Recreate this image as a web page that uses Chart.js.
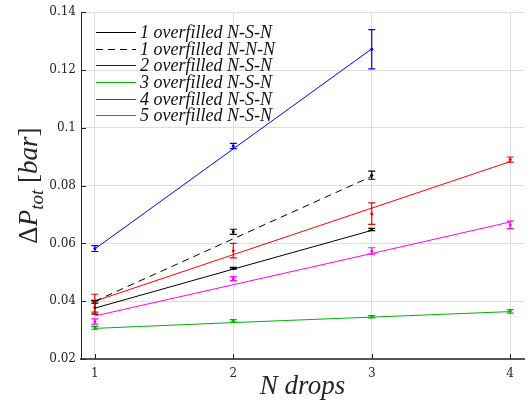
<!DOCTYPE html>
<html>
<head>
<meta charset="utf-8">
<script src="https://cdn.jsdelivr.net/npm/chart.js@4.4.0/dist/chart.umd.min.js"></script>
<style>
    html, body { margin: 0; padding: 0; background: #fff; }
    #wrap { width: 531px; height: 403px; }
</style>
</head>
<body>
<div id="wrap"><canvas id="dropsChart" width="531" height="403"></canvas></div>
<script>
// x positions and tick labels
var nDrops = [1, 2, 3, 4];
var yTicks = [0.02, 0.04, 0.06, 0.08, 0.1, 0.12, 0.14];

var seriesNames = ['1 overfilled N-S-N', '1 overfilled N-N-N', '2 overfilled N-S-N',
                   '3 overfilled N-S-N', '4 overfilled N-S-N', '5 overfilled N-S-N'];

// fitted lines (value at each N)
var fit1NSN = [0.0376, 0.0511, 0.0645];
var fit1NNN = [0.0400, 0.0616, 0.0832];
var fit2NSN = [0.0581, 0.0927, 0.1273];
var fit3NSN = [0.0306, 0.0326, 0.0345, 0.0364];
var fit4NSN = [0.0400, 0.0561, 0.0722, 0.0883];
var fit5NSN = [0.0349, 0.0457, 0.0565, 0.0674];

// measured mean values
var mean1NSN = [0.0378, 0.0514, 0.0648];
var mean1NNN = [0.0398, 0.0640, 0.0836];
var mean2NSN = [0.0582, 0.0937, 0.1272];
var mean3NSN = [0.0308, 0.0332, 0.0346, 0.0365];
var mean4NSN = [0.0393, 0.0575, 0.0703, 0.0890];
var mean5NSN = [0.0330, 0.0478, 0.0574, 0.0664];

// half-length of the error bars
var err1NSN = [0.0023, 0.0003, 0.0004];
var err1NNN = [0.0005, 0.0009, 0.0014];
var err2NSN = [0.0010, 0.0009, 0.0068];
var err3NSN = [0.0005, 0.0004, 0.0004, 0.0006];
var err4NSN = [0.0031, 0.0025, 0.0037, 0.0009];
var err5NSN = [0.0009, 0.0007, 0.0011, 0.0013];

var fits = [fit1NSN, fit1NNN, fit2NSN, fit3NSN, fit4NSN, fit5NSN];
var means = [mean1NSN, mean1NNN, mean2NSN, mean3NSN, mean4NSN, mean5NSN];
var errs = [err1NSN, err1NNN, err2NSN, err3NSN, err4NSN, err5NSN];

var colors = ['#000000', '#000000', '#0000ff', '#00b400', '#ff0000', '#ff00ff'];
var dashes = [[], [7, 5], [], [], [], []];

var textColor = '#262626';
var serif = '"Liberation Serif", "DejaVu Serif", serif';

function makeXY(values) {
    return values.map(function (v, i) { return { x: nDrops[i], y: v }; });
}

var datasets = [];
for (var s = 0; s < seriesNames.length; s++) {
    datasets.push({
        label: seriesNames[s],
        data: makeXY(fits[s]),
        borderColor: colors[s],
        borderWidth: 1,
        borderDash: dashes[s],
        pointRadius: 0,
        fill: false,
        tension: 0
    });
    datasets.push({
        label: seriesNames[s] + ' data',
        data: makeXY(means[s]),
        errors: errs[s],
        showLine: false,
        pointRadius: 1.5,
        pointBorderWidth: 0,
        pointBackgroundColor: colors[s],
        borderColor: colors[s]
    });
}

// vertical error bars with caps, placed through the chart scales
var errorBarPlugin = {
    id: 'errorBars',
    afterDatasetsDraw: function (chart) {
        var ctx = chart.ctx;
        var xs = chart.scales.x, ys = chart.scales.y;
        chart.data.datasets.forEach(function (ds) {
            if (!ds.errors) return;
            ctx.save();
            ctx.strokeStyle = ds.borderColor;
            ctx.lineWidth = 1.2;
            ds.data.forEach(function (p, i) {
                var px = xs.getPixelForValue(p.x);
                var yTop = ys.getPixelForValue(p.y + ds.errors[i]);
                var yBot = ys.getPixelForValue(p.y - ds.errors[i]);
                ctx.beginPath();
                ctx.moveTo(px, yTop); ctx.lineTo(px, yBot);
                ctx.moveTo(px - 3.5, yTop); ctx.lineTo(px + 3.5, yTop);
                ctx.moveTo(px - 3.5, yBot); ctx.lineTo(px + 3.5, yBot);
                ctx.stroke();
            });
            ctx.restore();
        });
    }
};

// inward tick marks, legend and y label
var decorPlugin = {
    id: 'decor',
    afterDraw: function (chart) {
        var ctx = chart.ctx;
        var area = chart.chartArea;
        var xs = chart.scales.x, ys = chart.scales.y;

        ctx.save();
        ctx.strokeStyle = textColor;
        ctx.lineWidth = 1;
        ys.ticks.forEach(function (t) {
            var py = Math.round(ys.getPixelForValue(t.value)) + 0.5;
            ctx.beginPath(); ctx.moveTo(area.left, py); ctx.lineTo(area.left + 5, py); ctx.stroke();
        });
        xs.ticks.forEach(function (t) {
            var px = Math.round(xs.getPixelForValue(t.value)) + 0.5;
            ctx.beginPath(); ctx.moveTo(px, area.bottom); ctx.lineTo(px, area.bottom - 5); ctx.stroke();
        });
        ctx.restore();

        // legend
        ctx.save();
        var lx = area.left + 15, ly = area.top + 20, rowH = 16.6;
        ctx.font = 'italic 18px ' + serif;
        ctx.textBaseline = 'middle';
        for (var i = 0; i < seriesNames.length; i++) {
            var y = Math.round(ly + i * rowH) + 0.5;
            ctx.strokeStyle = colors[i];
            ctx.lineWidth = 1;
            ctx.setLineDash(dashes[i]);
            ctx.beginPath(); ctx.moveTo(lx, y); ctx.lineTo(lx + 40, y); ctx.stroke();
            ctx.setLineDash([]);
            ctx.fillStyle = '#111';
            ctx.fillText(seriesNames[i], lx + 44, y + 1);
        }
        ctx.restore();

        // y label: Delta P_tot [bar]
        ctx.save();
        var cy = (area.top + area.bottom) / 2;
        ctx.translate(37, cy);
        ctx.rotate(-Math.PI / 2);
        ctx.fillStyle = textColor;
        ctx.textBaseline = 'alphabetic';
        var parts = [
            { t: '\u0394', f: '27px ' + serif, dy: 0 },
            { t: 'P', f: 'italic 27px ' + serif, dy: 0 },
            { t: 'tot', f: 'italic 19px ' + serif, dy: 6 },
            { t: ' [', f: '27px ' + serif, dy: 0 },
            { t: 'bar', f: 'italic 27px ' + serif, dy: 0 },
            { t: ']', f: '27px ' + serif, dy: 0 }
        ];
        var total = 0;
        parts.forEach(function (p) { ctx.font = p.f; p.w = ctx.measureText(p.t).width; total += p.w; });
        var x0 = -total / 2;
        parts.forEach(function (p) {
            ctx.font = p.f;
            ctx.fillText(p.t, x0, p.dy);
            x0 += p.w;
        });
        ctx.restore();
    }
};

var chartDiv = document.getElementById('dropsChart');
var myChart = new Chart(chartDiv, {
    type: 'line',
    data: { datasets: datasets },
    plugins: [errorBarPlugin, decorPlugin],
    options: {
        responsive: false,
        animation: false,
        layout: { padding: { top: 12, right: 7, left: 0, bottom: 0 } },
        plugins: {
            legend: { display: false },
            tooltip: { enabled: false }
        },
        scales: {
            x: {
                type: 'linear',
                min: 0.9,
                max: 4.1,
                afterBuildTicks: function (scale) {
                    scale.ticks = nDrops.map(function (v) { return { value: v }; });
                },
                afterFit: function (scale) { scale.height = 44; },
                ticks: {
                    color: textColor,
                    font: { family: '"DejaVu Serif", serif', size: 12 },
                    padding: 8,
                    maxRotation: 0,
                    callback: function (v) { return String(v); }
                },
                grid: { color: '#dedede', drawTicks: false },
                border: { color: '#555555', width: 2 },
                title: {
                    display: true,
                    text: 'N drops',
                    color: textColor,
                    font: { family: serif, size: 27, style: 'italic' },
                    padding: 0
                }
            },
            y: {
                min: 0.02,
                max: 0.14,
                afterBuildTicks: function (scale) {
                    scale.ticks = yTicks.map(function (v) { return { value: v }; });
                },
                afterFit: function (scale) { scale.width = 81; },
                ticks: {
                    color: textColor,
                    font: { family: '"DejaVu Serif", serif', size: 12 },
                    padding: 5,
                    callback: function (v) { return String(parseFloat(v.toFixed(2))); }
                },
                grid: { color: '#dedede', drawTicks: false },
                border: { color: textColor, width: 1 }
            }
        }
    }
});
</script>
</body>
</html>
